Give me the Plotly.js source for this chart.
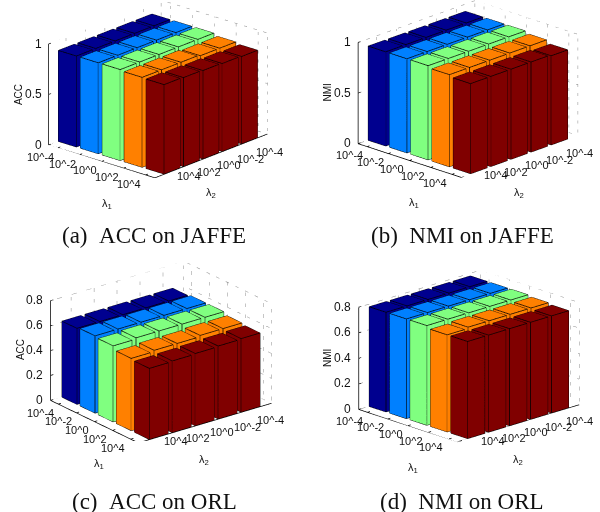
<!DOCTYPE html>
<html><head><meta charset="utf-8">
<script src="https://cdn.plot.ly/plotly-3.0.1.min.js"></script>
<style>html,body{margin:0;padding:0;background:#fff}#c{width:600px;height:512px}</style>
</head><body><div id="c"></div>
<script>
var lambdaLabels = ["10^-4","10^-2","10^0","10^2","10^4"];
var rowColors = ["#00008f","#0080ff","#80ff80","#ff8000","#800000"];
// rows: lambda1 index; columns: lambda2 index
var acc_jaffe = [
 [0.90,0.90,0.90,0.90,0.90],
 [0.90,0.90,0.90,0.90,0.90],
 [0.90,0.90,0.90,0.90,0.90],
 [0.88,0.88,0.89,0.89,0.89],
 [0.865,0.87,0.875,0.88,0.885]];
var nmi_jaffe = [
 [0.93,0.93,0.93,0.93,0.93],
 [0.93,0.93,0.93,0.93,0.93],
 [0.93,0.93,0.93,0.93,0.93],
 [0.91,0.91,0.91,0.91,0.91],
 [0.88,0.89,0.89,0.89,0.89]];
var acc_orl = [
 [0.61,0.61,0.61,0.61,0.61],
 [0.62,0.62,0.62,0.62,0.62],
 [0.62,0.62,0.62,0.62,0.61],
 [0.60,0.60,0.59,0.59,0.58],
 [0.59,0.585,0.58,0.575,0.57]];
var nmi_orl = [
 [0.78,0.78,0.78,0.78,0.78],
 [0.78,0.78,0.78,0.78,0.78],
 [0.78,0.78,0.78,0.78,0.78],
 [0.77,0.77,0.77,0.77,0.76],
 [0.76,0.76,0.76,0.76,0.76]];
var zTicksA = [0,0.5,1], zTicksB=[0,0.2,0.4,0.6,0.8];
var zLabelsA = ["0","0.5","1"], zLabelsB=["0","0.2","0.4","0.6","0.8"];
var captions = ["(a)\u00a0\u00a0ACC on JAFFE","(b)\u00a0\u00a0NMI on JAFFE","(c)\u00a0\u00a0ACC on ORL","(d)\u00a0\u00a0NMI on ORL"];
var zNames = ["ACC","NMI","ACC","NMI"];
var values = [acc_jaffe,nmi_jaffe,acc_orl,nmi_orl];
var zTicks = [zTicksA,zTicksA,zTicksB,zTicksB];
var zLabels = [zLabelsA,zLabelsA,zLabelsB,zLabelsB];
// scene centres in pixels, view azimuth and elevation
var centres = [[158,89],[467.5,88.5],[160.5,351.5],[468.5,355.5]];
var azim = [41.7,43.7,51.9,46];
var elev = [20.3,20,22.3,18.4];
var captionPos = [[154,235],[462.5,235],[154,501],[462,501]];
var tickShiftX = [20,20,18,17,17], tickShiftY = [-11,-11,-9,-9,-5];
var halfW=130, halfH=89, W=600, H=512, EYE=1.79;
var traces=[], layout={width:W,height:H,margin:{l:0,r:0,t:0,b:0},paper_bgcolor:"#fff",showlegend:false,annotations:[]};
var xlo=0.1, xhi=5.9, ylo=0.575, yhi=5.425, hw=0.41;
values.forEach(function(M,p){
  var sid = p===0?"scene":"scene"+(p+1);
  var zmax = zTicks[p][zTicks[p].length-1];
  for(var r=0;r<5;r++){
    var X=[],Y=[],Z=[],I=[],J=[],K=[], ex=[],ey=[],ez=[];
    for(var c=0;c<5;c++){
      var v=M[r][c], x0=c+1-hw,x1=c+1+hw,y0=r+1-hw,y1=r+1+hw, b=X.length;
      [[x0,y0,0],[x1,y0,0],[x1,y1,0],[x0,y1,0],[x0,y0,v],[x1,y0,v],[x1,y1,v],[x0,y1,v]].forEach(function(q){X.push(q[0]);Y.push(q[1]);Z.push(q[2]);});
      [[0,1,2],[0,2,3],[4,5,6],[4,6,7],[0,1,5],[0,5,4],[1,2,6],[1,6,5],[2,3,7],[2,7,6],[3,0,4],[3,4,7]].forEach(function(t){I.push(b+t[0]);J.push(b+t[1]);K.push(b+t[2]);});
      [[x0,y0,v],[x1,y0,v],[x1,y1,v],[x0,y1,v],[x0,y0,v],null,[x1,y0,v],[x1,y0,0],[x1,y1,0],[x1,y1,v],null,[x1,y1,0],[x0,y1,0],[x0,y1,v],null].forEach(function(q){
        ex.push(q?q[0]:null);ey.push(q?q[1]:null);ez.push(q?q[2]:null);});
    }
    traces.push({type:"mesh3d",scene:sid,x:X,y:Y,z:Z,i:I,j:J,k:K,color:rowColors[r],flatshading:true,hoverinfo:"skip",
      lighting:{ambient:1,diffuse:0,specular:0,fresnel:0,roughness:1}});
    traces.push({type:"scatter3d",mode:"lines",scene:sid,x:ex,y:ey,z:ez,line:{color:"#000",width:1.5},hoverinfo:"skip",connectgaps:false});
  }
  // dotted back walls
  var gx=[],gy=[],gz=[];
  function seg(a,b){gx.push(a[0],b[0],null);gy.push(a[1],b[1],null);gz.push(a[2],b[2],null);}
  zTicks[p].forEach(function(t){ if(t>0){seg([xhi,ylo,t],[xlo,ylo,t]);seg([xlo,ylo,t],[xlo,yhi,t]);}});
  for(var i=1;i<=5;i++){seg([i,ylo,0],[i,ylo,zmax]);seg([xlo,i,0],[xlo,i,zmax]);}
  seg([xlo,ylo,0],[xlo,ylo,zmax]);seg([xlo,yhi,0],[xlo,yhi,zmax]);
  seg([xhi,ylo,0],[xlo,ylo,0]);seg([xlo,ylo,0],[xlo,yhi,0]);
  traces.push({type:"scatter3d",mode:"lines",scene:sid,x:gx,y:gy,z:gz,line:{color:"#8c8c8c",width:1,dash:"dot"},hoverinfo:"skip"});
  // axis lines and tick marks
  var ax=[],ay=[],az=[];
  function aseg(a,b){ax.push(a[0],b[0],null);ay.push(a[1],b[1],null);az.push(a[2],b[2],null);}
  aseg([xhi,ylo,0],[xhi,ylo,zmax]);aseg([xhi,ylo,0],[xhi,yhi,0]);aseg([xhi,yhi,0],[xlo,yhi,0]);
  zTicks[p].forEach(function(t){aseg([xhi,ylo,t],[xhi-0.12,ylo,t]);});
  for(var q=1;q<=5;q++){aseg([xhi,q,0],[xhi-0.12,q,0]);aseg([q,yhi,0],[q,yhi-0.12,0]);}
  traces.push({type:"scatter3d",mode:"lines",scene:sid,x:ax,y:ay,z:az,line:{color:"#000",width:1.5},hoverinfo:"skip"});
  var ann=[], tf={family:"Liberation Sans, Arial, sans-serif",size:11,color:"#111"};
  zLabels[p].forEach(function(l,i){ann.push({x:xhi,y:ylo,z:zTicks[p][i],text:l,showarrow:false,xanchor:"right",yanchor:"middle",xshift:-5,font:{family:tf.family,size:12,color:"#111"}});});
  lambdaLabels.forEach(function(l,i){
    ann.push({x:xhi,y:i+1,z:0,text:l,showarrow:false,xanchor:"center",yanchor:"middle",xshift:-17,yshift:-9,font:tf});
    ann.push({x:i+1,y:yhi,z:0,text:l,showarrow:false,xanchor:"center",yanchor:"middle",xshift:tickShiftX[i],yshift:tickShiftY[i],font:tf});
  });
  ann.push({x:xhi,y:ylo,z:zmax/2,text:zNames[p],showarrow:false,textangle:-90,xshift:-30,font:{family:tf.family,size:10,color:"#111"}});
  ann.push({x:xhi,y:3,z:0,text:"λ<sub>1</sub>",showarrow:false,xshift:5,yshift:-43,font:tf});
  ann.push({x:3,y:yhi,z:0,text:"λ<sub>2</sub>",showarrow:false,xshift:0,yshift:-37,font:tf});
  var az_=azim[p]*Math.PI/180, el=elev[p]*Math.PI/180;
  var hidden={showgrid:false,showline:false,zeroline:false,showticklabels:false,ticks:"",showspikes:false,showbackground:false,title:{text:""}};
  layout[sid]={
    domain:{x:[(centres[p][0]-halfW)/W,(centres[p][0]+halfW)/W],y:[1-(centres[p][1]+halfH)/H,1-(centres[p][1]-halfH)/H]},
    aspectmode:"manual",aspectratio:{x:1.90,y:1.60,z:1.21},
    camera:{projection:{type:"orthographic"},up:{x:0,y:0,z:1},center:{x:0,y:0,z:0},
      eye:{x:EYE*Math.cos(el)*Math.cos(az_),y:EYE*Math.cos(el)*Math.sin(az_),z:EYE*Math.sin(el)}},
    xaxis:Object.assign({range:[xlo,xhi]},hidden),yaxis:Object.assign({range:[ylo,yhi]},hidden),zaxis:Object.assign({range:[0,zmax]},hidden),
    annotations:ann,dragmode:false,bgcolor:"rgba(0,0,0,0)"};
  layout.annotations.push({xref:"paper",yref:"paper",x:captionPos[p][0]/W,y:1-captionPos[p][1]/H,xanchor:"center",yanchor:"middle",text:captions[p],showarrow:false,font:{family:"Liberation Serif, Times New Roman, serif",size:23,color:"#111"}});
});
Plotly.newPlot("c",traces,layout,{displayModeBar:false});
</script></body></html>
